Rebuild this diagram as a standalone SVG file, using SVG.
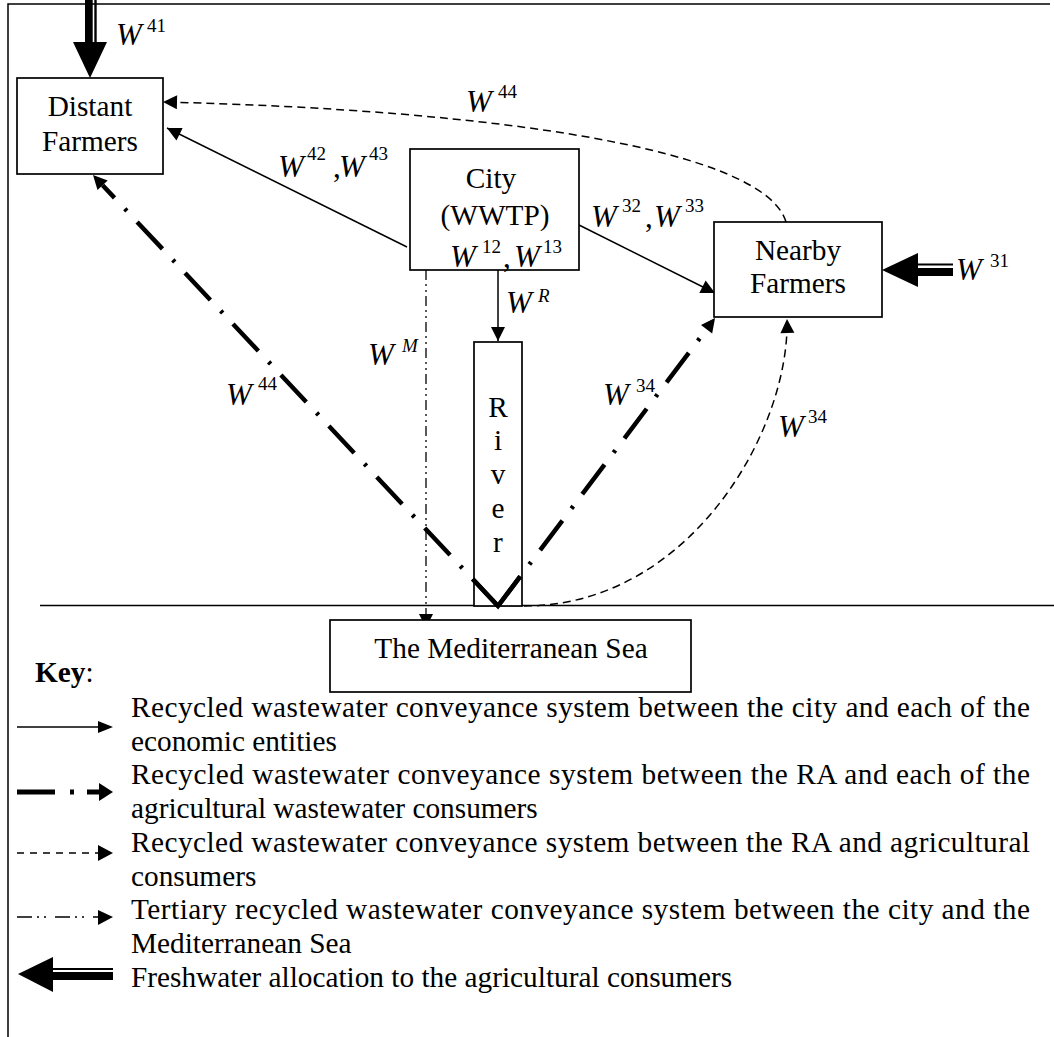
<svg xmlns="http://www.w3.org/2000/svg" width="1054" height="1037" viewBox="0 0 1054 1037">
<style>
.box{fill:#fff;stroke:#000;stroke-width:1.7}
.t{font-family:"Liberation Serif","Times New Roman",serif;font-size:29.3px;fill:#000}
.w{font-family:"Liberation Serif","Times New Roman",serif;font-size:31px;font-style:italic;fill:#000}
.c{font-family:"Liberation Serif","Times New Roman",serif;font-size:31px;fill:#000}
.s{font-family:"Liberation Serif","Times New Roman",serif;font-size:19px;fill:#000}
.si{font-family:"Liberation Serif","Times New Roman",serif;font-size:19px;font-style:italic;fill:#000}
.ln{fill:none;stroke:#000;stroke-width:1.5}
.dsh{stroke-dasharray:8 5}
.dd{fill:none;stroke:#000;stroke-width:4.5;stroke-dasharray:37 15 3 15}
.ddd{stroke-dasharray:10 4 2 4 2 4;stroke-width:1.3}
.frame{fill:none;stroke:#000;stroke-width:1.5}
</style>
<defs>
<marker id="ah" markerUnits="userSpaceOnUse" markerWidth="15" markerHeight="14" refX="14" refY="7" orient="auto" overflow="visible"><path d="M0,0 L14,7 L0,14 z" fill="#000"/></marker>
<marker id="ahb" markerUnits="userSpaceOnUse" markerWidth="15" markerHeight="14" refX="0" refY="7" orient="auto" overflow="visible"><path d="M0,0 L14,7 L0,14 z" fill="#000"/></marker>
</defs>
<rect width="1054" height="1037" fill="#fff"/>
<path class="frame" d="M8,1037 L8,4 L1050,4"/>
<path class="ln" d="M40,605.5 L1054,605.5"/>

<g id="river"><rect class="box" x="474" y="342" width="48" height="264"/>
<text class="t" text-anchor="middle" x="498" y="417">R</text>
<text class="t" text-anchor="middle" x="498" y="450">i</text>
<text class="t" text-anchor="middle" x="498" y="484">v</text>
<text class="t" text-anchor="middle" x="498" y="518">e</text>
<text class="t" text-anchor="middle" x="498" y="552">r</text></g>

<g id="connectors">
<path class="ln" d="M407,247 L167,128" marker-end="url(#ah)"/>
<path class="ln" d="M573,222 L715,293" marker-end="url(#ah)"/>
<path class="ln" d="M498,270 L498,341" marker-end="url(#ah)"/>
<path class="ln ddd" d="M426,270 L426,628" marker-end="url(#ah)"/>
<path class="ln dsh" d="M786,222 C765,150 500,110 163,102" marker-end="url(#ah)"/>
<path class="ln dsh" d="M524,606 C690,606 790,430 787,319" marker-end="url(#ah)"/>
<path class="dd" d="M498,606 L102.6,185.2" marker-end="url(#ahb)"/>
<path class="dd" d="M498,606 L706.6,329.2" marker-end="url(#ahb)"/>
<path fill="none" stroke="#000" stroke-width="4.5" stroke-linejoin="miter" d="M472.7,579 L498,606 L520.3,576.4"/>
<g id="fw41"><rect x="85" y="0" width="7.7" height="43" fill="#000"/><rect x="94.3" y="0" width="2.4" height="43" fill="#000"/><polygon points="73,42 107,42 90,78" fill="#000"/></g>
<g id="fw31"><rect x="917" y="263.5" width="36" height="2" fill="#000"/><rect x="917" y="268" width="36" height="8" fill="#000"/><polygon points="918,253 918,287 882,270" fill="#000"/></g>
</g>

<g id="distant"><rect class="box" x="17" y="78" width="146" height="96"/>
<text class="t" text-anchor="middle" x="90" y="116">Distant</text>
<text class="t" text-anchor="middle" x="90" y="151">Farmers</text></g>

<g id="city"><rect class="box" x="410" y="149" width="169" height="121"/>
<text class="t" text-anchor="middle" x="491" y="188">City</text>
<text class="t" text-anchor="middle" x="495" y="225">(WWTP)</text></g>

<g id="nearby"><rect class="box" x="714" y="222" width="168" height="95"/>
<text class="t" text-anchor="middle" x="798" y="260">Nearby</text>
<text class="t" text-anchor="middle" x="798" y="293">Farmers</text></g>

<g id="sea"><rect class="box" x="330" y="620" width="361" height="72"/>
<text class="t" text-anchor="middle" x="511" y="658">The Mediterranean Sea</text></g>

<g id="labels">
<text class="w" x="116" y="45">W</text><text class="s" x="147" y="32">41</text>
<text class="w" x="466" y="112">W</text><text class="s" x="498" y="98">44</text>
<text class="w" x="278" y="177">W</text><text class="s" x="307" y="160">42</text><text class="c" x="333" y="177">,</text><text class="w" x="339" y="177">W</text><text class="s" x="369" y="160">43</text>
<text class="w" x="591" y="227">W</text><text class="s" x="622" y="212">32</text><text class="c" x="645" y="227">,</text><text class="w" x="654" y="227">W</text><text class="s" x="685" y="212">33</text>
<text class="w" x="450" y="267">W</text><text class="s" x="482" y="253">12</text><text class="c" x="503" y="267">,</text><text class="w" x="514" y="267">W</text><text class="s" x="543" y="253">13</text>
<text class="w" x="506" y="313">W</text><text class="si" x="538" y="302">R</text>
<text class="w" x="368" y="365">W</text><text class="si" x="402" y="352">M</text>
<text class="w" x="226" y="405">W</text><text class="s" x="258" y="390">44</text>
<text class="w" x="603" y="405">W</text><text class="s" x="636" y="392">34</text>
<text class="w" x="778" y="437">W</text><text class="s" x="808" y="423">34</text>
<text class="w" x="956" y="280">W</text><text class="s" x="990" y="267">31</text>
</g>

<g id="key">
<text class="t" x="35" y="682"><tspan font-weight="bold">Key</tspan>:</text>
<line x1="17" y1="727" x2="100" y2="727" stroke="#000" stroke-width="1.5"/><polygon points="98,721 113,727 98,733" fill="#000"/>
<path d="M17,792 L55,792 M70,792 L74,792 M87,792 L100,792" stroke="#000" stroke-width="5" fill="none"/><polygon points="99,783 113,792 99,801" fill="#000"/>
<line x1="17" y1="853" x2="98" y2="853" stroke="#000" stroke-width="1.5" stroke-dasharray="7 6"/><polygon points="98,845 113,853 98,861" fill="#000"/>
<line x1="17" y1="917" x2="98" y2="917" stroke="#000" stroke-width="1.5" stroke-dasharray="15 5 2 5 2 9"/><polygon points="98,910 113,917 98,925" fill="#000"/>
<rect x="53" y="968" width="60" height="2" fill="#000"/><rect x="53" y="972" width="60" height="8" fill="#000"/><polygon points="53,957 53,992 18,974" fill="#000"/>
<text class="t" x="131" y="717" textLength="899" lengthAdjust="spacing">Recycled wastewater conveyance system between the city and each of the</text>
<text class="t" x="131" y="751">economic entities</text>
<text class="t" x="131" y="784" textLength="899" lengthAdjust="spacing">Recycled wastewater conveyance system between the RA and each of the</text>
<text class="t" x="131" y="818">agricultural wastewater consumers</text>
<text class="t" x="131" y="852" textLength="899" lengthAdjust="spacing">Recycled wastewater conveyance system between the RA and agricultural</text>
<text class="t" x="131" y="886">consumers</text>
<text class="t" x="131" y="919" textLength="899" lengthAdjust="spacing">Tertiary recycled wastewater conveyance system between the city and the</text>
<text class="t" x="131" y="953">Mediterranean Sea</text>
<text class="t" x="131" y="987">Freshwater allocation to the agricultural consumers</text>
</g>
</svg>
